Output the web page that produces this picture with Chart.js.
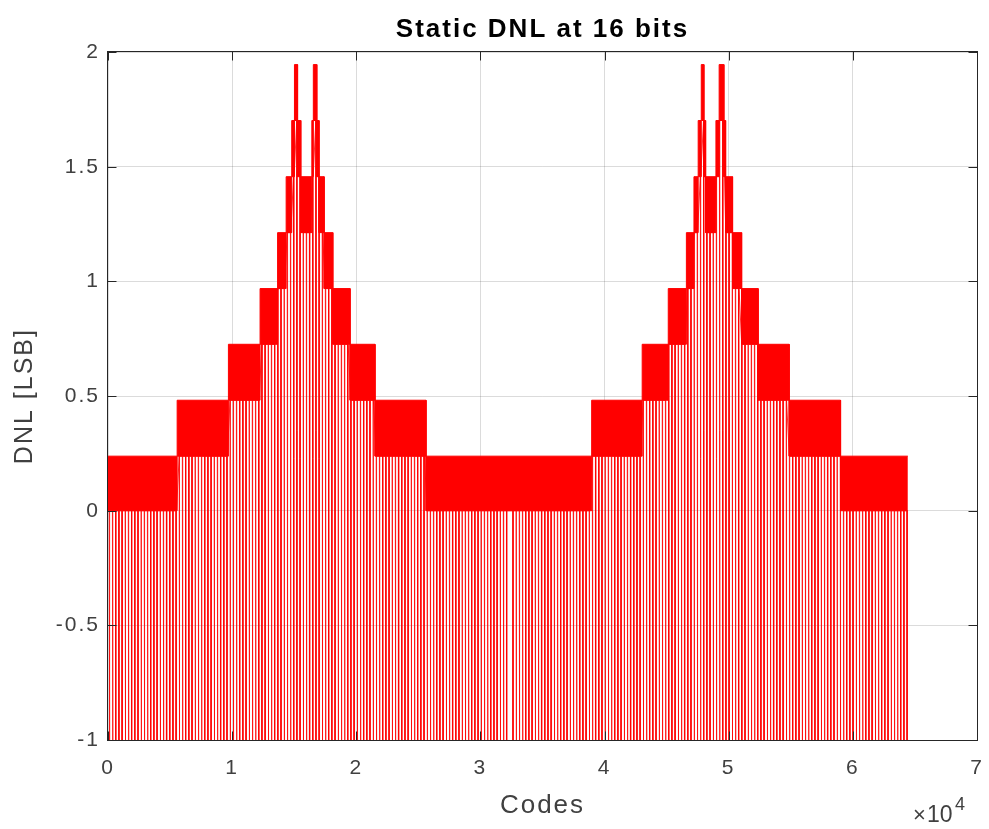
<!DOCTYPE html>
<html>
<head>
<meta charset="utf-8">
<title>Static DNL at 16 bits</title>
<script src="https://cdn.jsdelivr.net/npm/chart.js@4/dist/chart.umd.min.js"></script>
<style>
  html, body { margin: 0; padding: 0; background: #fff; }
  #wrap { width: 989px; height: 829px; }
</style>
</head>
<body>
<div id="wrap"><canvas id="chart" width="989" height="829"></canvas></div>
<script>
// ===== DATA =====
// step segments of the DNL envelope: start code, upper level, lower level of the dense band
const segStart = [0, 5570, 9700, 12250, 13660, 14350, 14800, 15020, 15270, 15530, 16420, 16540, 16820, 17000,
  17410, 18110, 19500, 21510, 25620, 38960, 43030, 45130, 46590, 47200, 47540, 47790, 48000, 48140, 48970,
  49230, 49610, 49750, 50310, 51040, 52370, 54870, 59010];
const lastCode = 64430;
const segHigh = [0.238, 0.482, 0.726, 0.969, 1.213, 1.457, 1.702, 1.946, 1.702, 1.457, 1.702, 1.946, 1.702, 1.457,
  1.213, 0.969, 0.726, 0.482, 0.238, 0.482, 0.726, 0.969, 1.213, 1.457, 1.702, 1.946, 1.702, 1.457, 1.702,
  1.946, 1.702, 1.457, 1.213, 0.969, 0.726, 0.482, 0.238];
const segLow = [0, 0.238, 0.482, 0.726, 0.969, 1.213, 1.457, 1.702, 1.457, 1.213, 1.457, 1.702, 1.457, 1.213,
  0.969, 0.726, 0.482, 0.238, 0, 0.238, 0.482, 0.726, 0.969, 1.213, 1.457, 1.702, 1.457, 1.213, 1.457,
  1.702, 1.457, 1.213, 0.969, 0.726, 0.482, 0.238, 0];

// missing codes (DNL = -1): one every 256 codes, none in the small gap near mid scale
const missingFirst = 100;
const missingStep = 256;
const missingWidth = 45;
const noMissingFrom = 32160;
const noMissingTo = 32570;
const missingLevel = -1;

const xTicks = [0, 1, 2, 3, 4, 5, 6, 7];          // x 10^4 codes
const yTicks = [-1, -0.5, 0, 0.5, 1, 1.5, 2];

// ===== SERIES =====
function segEnd(i){ return i < segStart.length - 1 ? segStart[i + 1] : lastCode; }
function lowAt(c){
  for (let i = 0; i < segStart.length; i++) if (c >= segStart[i] && c < segEnd(i)) return segLow[i];
  return 0;
}

let highPts = [], lowPts = [];
segStart.forEach((s, i) => {
  highPts.push({x: s, y: segHigh[i]}, {x: segEnd(i), y: segHigh[i]});
  lowPts.push({x: s, y: segLow[i]}, {x: segEnd(i), y: segLow[i]});
});

let spikePts = [];
for (let c = missingFirst; c < lastCode; c += missingStep) {
  if (c >= noMissingFrom && c < noMissingTo) continue;
  let lo = lowAt(c);
  spikePts.push({x: c, y: lo}, {x: c, y: missingLevel}, {x: c + missingWidth, y: missingLevel}, {x: c + missingWidth, y: lo});
}

// ===== FRAME (box, inward ticks, exponent) =====
const frame = {
  id: 'frame',
  beforeDraw(chart){ chart.ctx.letterSpacing = '2px'; },
  afterDatasetsDraw(chart){
    const {ctx, chartArea: a, scales: {x, y}} = chart;
    const L = Math.round(a.left) - 0.5, R = Math.round(a.right) + 0.5;
    const T = Math.round(a.top) - 0.5, B = Math.round(a.bottom) + 0.5;
    ctx.save();
    ctx.strokeStyle = '#262626';
    ctx.lineWidth = 1;
    ctx.strokeRect(L, T, R - L, B - T);
    ctx.beginPath();
    xTicks.forEach(t => {
      let px = Math.round(x.getPixelForValue(t * 10000)) + 0.5;
      ctx.moveTo(px, B); ctx.lineTo(px, B - 9);
      ctx.moveTo(px, T); ctx.lineTo(px, T + 9);
    });
    yTicks.forEach(t => {
      let py = Math.round(y.getPixelForValue(t)) + 0.5;
      ctx.moveTo(L, py); ctx.lineTo(L + 9, py);
      ctx.moveTo(R, py); ctx.lineTo(R - 9, py);
    });
    ctx.stroke();
    ctx.restore();
  },
  afterDraw(chart){
    const ctx = chart.ctx;
    ctx.save();
    ctx.letterSpacing = '0px';
    ctx.fillStyle = '#404040';
    ctx.textBaseline = 'alphabetic';
    ctx.font = '22px "Liberation Sans", Arial, sans-serif';
    ctx.fillText('\u00d7', 913, 822);
    ctx.font = '23px "Liberation Sans", Arial, sans-serif';
    ctx.fillText('10', 927, 822);
    ctx.font = '18px "Liberation Sans", Arial, sans-serif';
    ctx.fillText('4', 955, 810);
    ctx.restore();
  }
};

// ===== CHART =====
const red = '#ff0000';
const font = '"Liberation Sans", Arial, Helvetica, sans-serif';

new Chart(document.getElementById('chart'), {
  type: 'line',
  data: {
    datasets: [
      { label: 'DNL high', data: highPts, borderColor: red, backgroundColor: red, borderWidth: 1, fill: '+1', pointRadius: 0 },
      { label: 'DNL low', data: lowPts, borderColor: red, borderWidth: 1, fill: false, pointRadius: 0 },
      { label: 'DNL', data: spikePts, borderColor: 'rgba(255,0,0,0.8)', borderWidth: 1, fill: false, pointRadius: 0 }
    ]
  },
  options: {
    responsive: false,
    animation: false,
    devicePixelRatio: 1,
    layout: { padding: { left: 0, right: 12, top: 0, bottom: 0 } },
    plugins: {
      legend: { display: false },
      tooltip: { enabled: false },
      title: {
        display: true,
        fullSize: false,
        text: 'Static DNL at 16 bits',
        color: '#000',
        font: { family: font, size: 26, weight: 'bold', lineHeight: 1.2 },
        padding: { top: 14, bottom: 7 }
      }
    },
    scales: {
      x: {
        type: 'linear',
        min: 0, max: 70000,
        afterFit: s => { s.height = 89; s.paddingLeft = 0; s.paddingRight = 0; },
        afterBuildTicks: s => { s.ticks = xTicks.map(v => ({value: v * 10000})); },
        ticks: { color: '#404040', font: { family: font, size: 21 }, padding: 16, maxRotation: 0,
          callback: v => String(v / 10000) },
        grid: { color: 'rgba(0,0,0,0.14)', drawTicks: false },
        border: { display: false },
        title: { display: true, text: 'Codes', color: '#404040', font: { family: font, size: 26, lineHeight: 1.2 },
          padding: { top: 0, bottom: 8 } }
      },
      y: {
        min: -1, max: 2,
        afterFit: s => { s.width = 108; s.paddingTop = 0; s.paddingBottom = 0; },
        afterBuildTicks: s => { s.ticks = yTicks.map(v => ({value: v})); },
        ticks: { color: '#404040', font: { family: font, size: 21 }, padding: 8,
          callback: v => String(v) },
        grid: { color: 'rgba(0,0,0,0.14)', drawTicks: false },
        border: { display: false },
        title: { display: true, text: 'DNL [LSB]', color: '#404040', font: { family: font, size: 25, lineHeight: 1.2 },
          padding: { top: 10, bottom: 0 } }
      }
    }
  },
  plugins: [frame]
});
</script>
</body>
</html>
